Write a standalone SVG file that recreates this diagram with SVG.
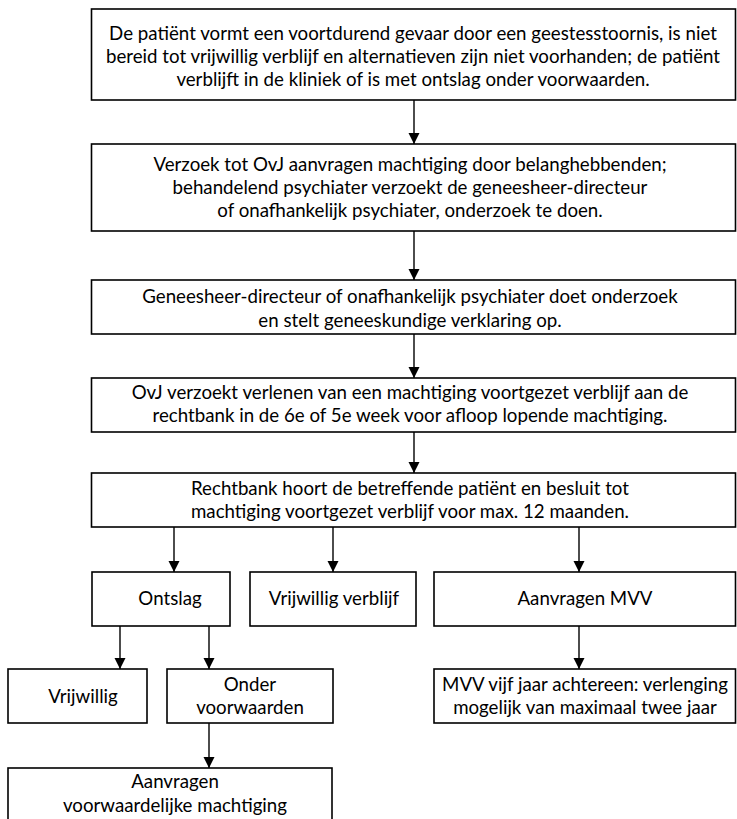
<svg xmlns="http://www.w3.org/2000/svg" width="737" height="819" viewBox="0 0 737 819">
<style>
.box{fill:#fff;stroke:#000;stroke-width:1.6}
.t{font-family:Lato,"Open Sans","Liberation Sans",sans-serif;font-size:18.7px;fill:#000;text-anchor:middle}
.c{stroke:#000;stroke-width:1.4;fill:none;marker-end:url(#ah)}
</style>
<defs>
<marker id="ah" markerUnits="userSpaceOnUse" markerWidth="12" markerHeight="12" viewBox="0 0 12 12" refX="11" refY="6" orient="auto">
<path d="M0,0.5 L11,6 L0,11.5 Z" fill="#000"/>
</marker>
</defs>
<rect width="737" height="819" fill="#fff"/>
<g id="connectors">
<line class="c" x1="414" y1="100" x2="414" y2="144"/>
<line class="c" x1="414" y1="231" x2="414" y2="280"/>
<line class="c" x1="414" y1="334" x2="414" y2="378"/>
<line class="c" x1="414" y1="432" x2="414" y2="473"/>
<line class="c" x1="174" y1="527" x2="174" y2="572"/>
<line class="c" x1="333" y1="527" x2="333" y2="572"/>
<line class="c" x1="579" y1="527" x2="579" y2="572"/>
<line class="c" x1="120" y1="626" x2="120" y2="669"/>
<line class="c" x1="209" y1="626" x2="209" y2="669"/>
<line class="c" x1="579" y1="626" x2="579" y2="669"/>
<line class="c" x1="209" y1="723" x2="209" y2="768"/>
</g>
<g id="n1">
<rect class="box" x="91.5" y="9" width="644" height="91"/>
<text class="t" x="413" y="40">De patiënt vormt een voortdurend gevaar door een geestesstoornis, is niet</text>
<text class="t" x="413" y="63">bereid tot vrijwillig verblijf en alternatieven zijn niet voorhanden; de patiënt</text>
<text class="t" x="413" y="86">verblijft in de kliniek of is met ontslag onder voorwaarden.</text>
</g>
<g id="n2">
<rect class="box" x="91.5" y="144" width="644" height="87"/>
<text class="t" x="410" y="171">Verzoek tot OvJ aanvragen machtiging door belanghebbenden;</text>
<text class="t" x="410" y="194">behandelend psychiater verzoekt de geneesheer-directeur</text>
<text class="t" x="410" y="217">of onafhankelijk psychiater, onderzoek te doen.</text>
</g>
<g id="n3">
<rect class="box" x="91.5" y="280" width="644" height="54"/>
<text class="t" x="410" y="303">Geneesheer-directeur of onafhankelijk psychiater doet onderzoek</text>
<text class="t" x="410" y="327">en stelt geneeskundige verklaring op.</text>
</g>
<g id="n4">
<rect class="box" x="91.5" y="378" width="644" height="54"/>
<text class="t" x="410" y="399">OvJ verzoekt verlenen van een machtiging voortgezet verblijf aan de</text>
<text class="t" x="410" y="422">rechtbank in de 6e of 5e week voor afloop lopende machtiging.</text>
</g>
<g id="n5">
<rect class="box" x="91.5" y="473" width="644" height="54"/>
<text class="t" x="410" y="495">Rechtbank hoort de betreffende patiënt en besluit tot</text>
<text class="t" x="410" y="518">machtiging voortgezet verblijf voor max. 12 maanden.</text>
</g>
<g id="n6">
<rect class="box" x="92" y="572" width="138" height="54"/>
<text class="t" x="170" y="605">Ontslag</text>
</g>
<g id="n7">
<rect class="box" x="250" y="572" width="166" height="54"/>
<text class="t" x="334" y="605">Vrijwillig verblijf</text>
</g>
<g id="n8">
<rect class="box" x="434" y="572" width="301.5" height="54"/>
<text class="t" x="585" y="605">Aanvragen MVV</text>
</g>
<g id="n9">
<rect class="box" x="8" y="669" width="139" height="54"/>
<text class="t" x="83" y="703">Vrijwillig</text>
</g>
<g id="n10">
<rect class="box" x="167" y="669" width="166" height="54"/>
<text class="t" x="250" y="691">Onder</text>
<text class="t" x="250" y="714">voorwaarden</text>
</g>
<g id="n11">
<rect class="box" x="434" y="669" width="301.5" height="54"/>
<text class="t" x="585" y="691">MVV vijf jaar achtereen: verlenging</text>
<text class="t" x="585" y="714">mogelijk van maximaal twee jaar</text>
</g>
<g id="n12">
<rect class="box" x="8" y="768" width="324" height="60"/>
<text class="t" x="175" y="788">Aanvragen</text>
<text class="t" x="175" y="812">voorwaardelijke machtiging</text>
</g>
</svg>
